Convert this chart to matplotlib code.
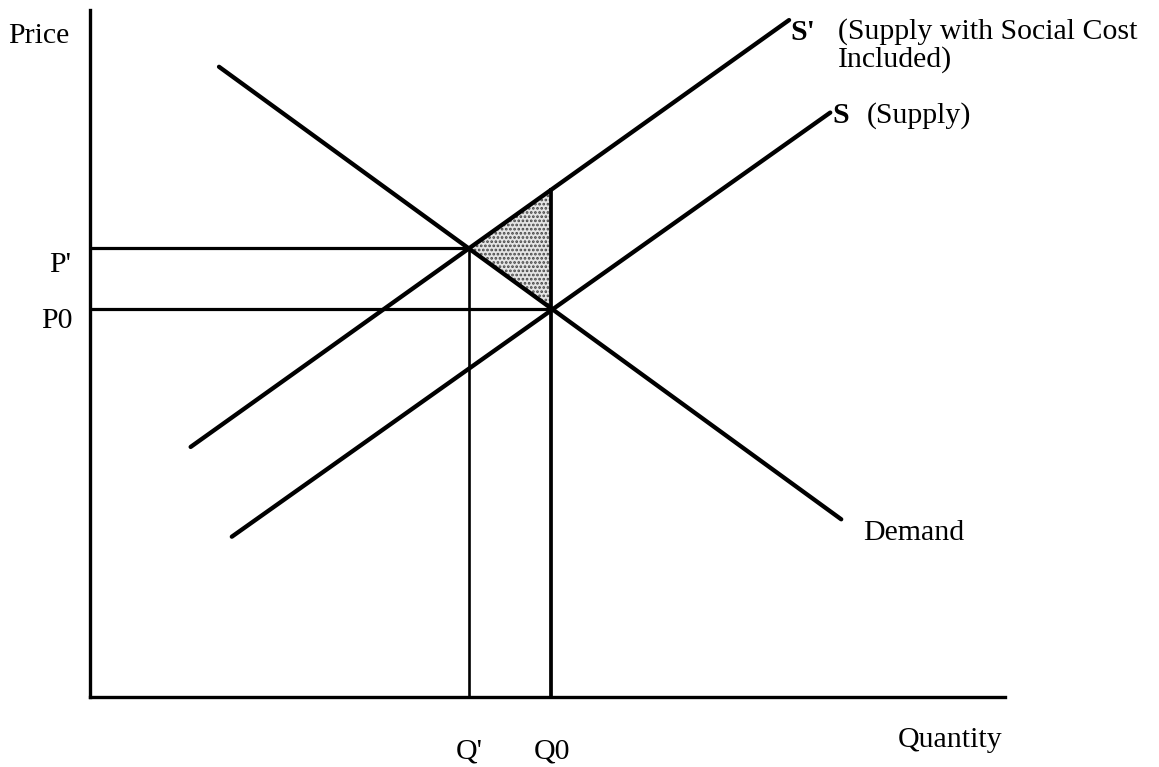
import matplotlib
matplotlib.use("Agg")
import matplotlib.pyplot as plt

# ---- data (economic units: quantity on x, price on y) ----
q_prime = 41.4          # Q'
q_zero = 50.4           # Q0
p_prime = 49.0          # P'
p_zero = 42.4           # P0
demand_q = [14.1, 82.1]
demand_p = [68.8, 19.4]
supply_social_q = [11.0, 76.4]   # S'
supply_social_p = [27.3, 73.9]
supply_q = [15.5, 80.9]          # S
supply_p = [17.5, 63.8]
s_prime_at_q0 = 55.4             # price on S' at Q0
q_max = 100
p_max = 75

W, H, DPI = 1159, 767, 100
plt.rcParams["hatch.linewidth"] = 1.3
plt.rcParams["hatch.color"] = "#444444"

fig = plt.figure(figsize=(W / DPI, H / DPI), dpi=DPI)
ax = fig.add_axes([90 / W, (H - 697) / H, 915 / W, 687 / H])
ax.set_xlim(0, q_max)
ax.set_ylim(0, p_max)
for side in ("top", "right"):
    ax.spines[side].set_visible(False)
for side in ("left", "bottom"):
    ax.spines[side].set_linewidth(2.4)
    ax.spines[side].set_color("black")
ax.set_xticks([])
ax.set_yticks([])
ax.patch.set_alpha(0)

# shaded deadweight triangle
ax.fill([q_prime, q_zero, q_zero], [p_prime, s_prime_at_q0, p_zero],
        facecolor="#e4e4e4", hatch="....", edgecolor="#444444",
        linewidth=0, zorder=1)

lw = 3.1
ax.plot(demand_q, demand_p, color="black", lw=lw, solid_capstyle="round", zorder=3)
ax.plot(supply_social_q, supply_social_p, color="black", lw=lw, solid_capstyle="round", zorder=3)
ax.plot(supply_q, supply_p, color="black", lw=lw, solid_capstyle="round", zorder=3)

# reference lines
ax.plot([0, q_prime], [p_prime, p_prime], color="black", lw=2.3, zorder=2)
ax.plot([0, q_zero], [p_zero, p_zero], color="black", lw=2.3, zorder=2)
ax.plot([q_prime, q_prime], [0, p_prime], color="black", lw=1.9, zorder=2)
ax.plot([q_zero, q_zero], [0, s_prime_at_q0], color="black", lw=2.7, zorder=2)

font = dict(family=["Liberation Serif", "DejaVu Serif"], fontsize=21.5, color="black")
bold = dict(font, fontweight="bold")

ax.text(-9.0, 72.2, "Price", ha="left", va="center", **font)
ax.text(-2.1, 47.2, "P'", ha="right", va="center", **font)
ax.text(-1.9, 41.1, "P0", ha="right", va="center", **font)
ax.text(q_prime, -6.0, "Q'", ha="center", va="center", **font)
ax.text(q_zero + 0.1, -6.0, "Q0", ha="center", va="center", **font)
ax.text(88.3, -4.7, "Quantity", ha="left", va="center", **font)
ax.text(84.5, 17.9, "Demand", ha="left", va="center", **font)
ax.text(76.5, 72.5, "S'", ha="left", va="center", **bold)
ax.text(81.7, 72.7, "(Supply with Social Cost", ha="left", va="center", **font)
ax.text(81.7, 69.6, "Included)", ha="left", va="center", **font)
ax.text(81.1, 63.5, "S", ha="left", va="center", **bold)
ax.text(84.9, 63.5, "(Supply)", ha="left", va="center", **font)

fig.savefig("out.png", dpi=DPI, facecolor="white")
